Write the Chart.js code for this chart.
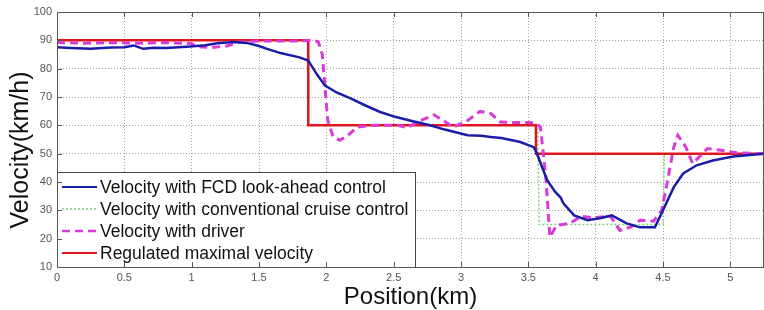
<!DOCTYPE html>
<html>
<head>
<meta charset="utf-8">
<script src="https://cdn.jsdelivr.net/npm/chart.js@4.4.1/dist/chart.umd.min.js"></script>
<style>
  html, body { margin: 0; padding: 0; background: #fff; }
  #wrap { width: 764px; height: 310px; }
</style>
</head>
<body>
<div id="wrap"><canvas id="chart" width="764" height="310"></canvas></div>
<script>
// posições (km) e velocidades (km/h)
const xTicks = [0, 0.5, 1, 1.5, 2, 2.5, 3, 3.5, 4, 4.5, 5];
const yTicks = [10, 20, 30, 40, 50, 60, 70, 80, 90, 100];
const xTitle = 'Position(km)';
const yTitle = 'Velocity(km/h)';

const fcdPos = [0, 0.1, 0.25, 0.4, 0.5, 0.57, 0.64, 0.72, 0.81, 0.9, 0.99, 1.1, 1.19, 1.31, 1.41, 1.5, 1.56, 1.66, 1.8, 1.865,
  1.93, 1.99, 2.08, 2.18, 2.29, 2.4, 2.51, 2.62, 2.77, 2.88, 2.99, 3.05, 3.15, 3.22, 3.3, 3.44, 3.54, 3.56,
  3.64, 3.7, 3.74, 3.76, 3.84, 3.94, 4.03, 4.12, 4.23, 4.33, 4.44, 4.5, 4.58, 4.65, 4.75, 4.87, 5.02, 5.25];
const fcdVel = [87.6, 87.3, 87.0, 87.5, 87.6, 88.2, 87.0, 87.4, 87.3, 87.6, 87.8, 88.3, 89.0, 89.4, 89.1, 88.0, 87.0, 85.5, 84.0, 82.9,
  78, 74, 71.5, 69.5, 67, 64.7, 63, 61.7, 60, 58.5, 57.2, 56.5, 56.3, 55.9, 55.5, 54.1, 52.3, 50.5,
  40.6, 36.5, 34.5, 32.5, 28.2, 26.5, 27.2, 28.2, 25.4, 24, 24, 30, 38.2, 43, 45.9, 47.6, 49, 50];

const cruisePos = [0, 1.865, 1.866, 3.57, 3.58, 4.2, 4.5, 4.51, 5.25];
const cruiseVel = [90, 90, 60, 60, 25, 25, 25, 50, 50];

const driverPos = [0, 0.2, 0.4, 0.6, 0.8, 1.0, 1.04, 1.15, 1.26, 1.35, 1.45, 1.6, 1.8, 1.9, 1.94, 1.97, 2.01, 2.05, 2.1, 2.16,
  2.23, 2.35, 2.53, 2.6, 2.7, 2.8, 2.9, 2.94, 3.05, 3.14, 3.22, 3.29, 3.39, 3.51, 3.56, 3.59, 3.63, 3.66, 3.71, 3.81,
  3.89, 3.98, 4.11, 4.18, 4.26, 4.33, 4.43, 4.49, 4.53, 4.58, 4.61, 4.67, 4.72, 4.78, 4.83, 4.93, 5.05, 5.25];
const driverVel = [89.2, 89.0, 89.2, 89.0, 89.2, 88.8, 87.8, 87.5, 88.0, 89.3, 89.7, 89.8, 89.8, 90, 89.5, 85, 62, 56, 54.7, 56.5,
  59.4, 60, 60, 59.2, 61.7, 63.7, 60.7, 59.3, 61.7, 64.9, 64.2, 61.2, 61, 61, 60.6, 59.4, 41.7, 20.6, 24.7, 25.4,
  27.9, 27.4, 27.9, 22.9, 24.1, 26.5, 26.2, 30, 39.5, 52.3, 56.5, 52.3, 46.5, 49.4, 51.8, 51.2, 50.3, 50];

const limitPos = [0, 1.865, 1.866, 3.556, 3.557, 5.25];
const limitVel = [90, 90, 60, 60, 50, 50];

const toPoints = (xs, ys) => xs.map((x, i) => ({ x: x, y: ys[i] }));

// moldura com marcas de escala para dentro + títulos dos eixos
const framePlugin = {
  id: 'frame',
  afterDraw(chart) {
    const { ctx, chartArea: a, scales } = chart;
    ctx.save();
    ctx.strokeStyle = '#555';
    ctx.lineWidth = 1;
    ctx.strokeRect(a.left + 0.5, a.top + 0.5, a.right - a.left - 1, a.bottom - a.top);
    ctx.beginPath();
    xTicks.forEach(v => {
      const px = Math.round(scales.x.getPixelForValue(v)) + 0.5;
      ctx.moveTo(px, a.top); ctx.lineTo(px, a.top + 5);
      ctx.moveTo(px, a.bottom); ctx.lineTo(px, a.bottom - 5);
    });
    yTicks.forEach(v => {
      const py = Math.round(scales.y.getPixelForValue(v)) + 0.5;
      ctx.moveTo(a.left, py); ctx.lineTo(a.left + 5, py);
    });
    ctx.stroke();

    ctx.fillStyle = '#111';
    ctx.textAlign = 'center';
    ctx.textBaseline = 'middle';
    ctx.font = '24px "Liberation Sans", Arial, sans-serif';
    ctx.fillText(xTitle, (a.left + a.right) / 2, 297);
    ctx.translate(21, 150);
    ctx.rotate(-Math.PI / 2);
    ctx.font = '25px "Liberation Sans", Arial, sans-serif';
    ctx.fillText(yTitle, 0, 0);
    ctx.restore();
  }
};

// legenda desenhada dentro da área do gráfico
const legendPlugin = {
  id: 'boxLegend',
  afterDatasetsDraw(chart) {
    const { ctx, chartArea: a } = chart;
    const boxTop = 172, boxRight = 415;
    ctx.save();
    ctx.fillStyle = '#fff';
    ctx.fillRect(a.left, boxTop, boxRight - a.left, a.bottom - boxTop);
    ctx.strokeStyle = '#444';
    ctx.lineWidth = 1;
    ctx.strokeRect(a.left + 0.5, boxTop + 0.5, boxRight - a.left, a.bottom - boxTop);
    ctx.font = '17.5px "Liberation Sans", Arial, sans-serif';
    ctx.textBaseline = 'middle';
    chart.data.datasets.forEach((ds, i) => {
      const y = 187 + i * 22;
      ctx.strokeStyle = ds.borderColor;
      ctx.lineWidth = ds.legendWidth;
      ctx.setLineDash(ds.borderDash || []);
      ctx.beginPath();
      ctx.moveTo(62, y); ctx.lineTo(97, y);
      ctx.stroke();
      ctx.setLineDash([]);
      ctx.fillStyle = '#111';
      ctx.fillText(ds.label, 100, y + 1);
    });
    ctx.restore();
  }
};

const tickFont = { family: '"Liberation Sans Narrow", "Liberation Sans", Arial, sans-serif', size: 11 };

new Chart(document.getElementById('chart'), {
  type: 'scatter',
  data: {
    datasets: [
      {
        label: 'Velocity with FCD look-ahead control',
        data: toPoints(fcdPos, fcdVel),
        borderColor: '#1c1caa', borderWidth: 2.5, legendWidth: 2,
        order: 1
      },
      {
        label: 'Velocity with conventional cruise control',
        data: toPoints(cruisePos, cruiseVel),
        borderColor: '#7ed07e', borderWidth: 1.5, borderDash: [2, 2], legendWidth: 1.5,
        order: 4
      },
      {
        label: 'Velocity with driver',
        data: toPoints(driverPos, driverVel),
        borderColor: '#d93ad9', borderWidth: 3, borderDash: [8, 5], legendWidth: 2.5,
        order: 2
      },
      {
        label: 'Regulated maximal velocity',
        data: toPoints(limitPos, limitVel),
        borderColor: '#e0161e', borderWidth: 2.5, legendWidth: 2,
        order: 3
      }
    ].map(ds => Object.assign(ds, { showLine: true, pointRadius: 0, tension: 0, fill: false }))
  },
  options: {
    responsive: false,
    animation: false,
    layout: { padding: { top: 12, right: 0, left: 0, bottom: 0 } },
    plugins: { legend: { display: false }, tooltip: { enabled: false } },
    scales: {
      x: {
        type: 'linear', min: 0, max: 5.25,
        afterBuildTicks: s => { s.ticks = xTicks.map(v => ({ value: v })); },
        afterFit: s => { s.height = 43; },
        grid: { color: '#a0a0a0', drawTicks: false, lineWidth: 1 },
        border: { display: false, dash: [1, 2] },
        ticks: { font: tickFont, color: '#555', padding: 4, maxRotation: 0, callback: v => String(v) }
      },
      y: {
        type: 'linear', min: 10, max: 100,
        afterBuildTicks: s => { s.ticks = yTicks.map(v => ({ value: v })); },
        afterFit: s => { s.width = 57; },
        grid: { color: '#a0a0a0', drawTicks: false, lineWidth: 1 },
        border: { display: false, dash: [1, 2] },
        ticks: { font: tickFont, color: '#555', padding: 5 }
      }
    }
  },
  plugins: [legendPlugin, framePlugin]
});
</script>
</body>
</html>
